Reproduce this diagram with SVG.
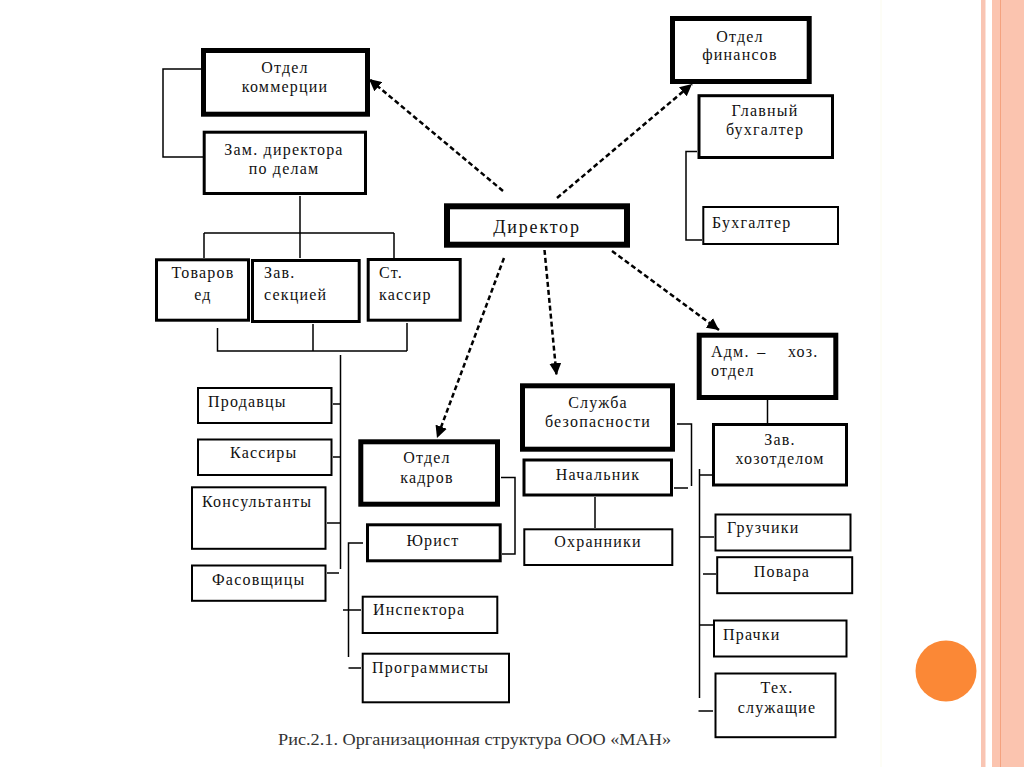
<svg xmlns="http://www.w3.org/2000/svg" width="1024" height="767" viewBox="0 0 1024 767" font-family="Liberation Serif, DejaVu Serif, serif">
<style>
.thick{fill:#fff;stroke:#000;stroke-width:5}
.box{fill:#fff;stroke:#000;stroke-width:3}
.thin{fill:#fff;stroke:#000;stroke-width:2}
.ln{fill:none;stroke:#000;stroke-width:1.5}
.dash{fill:none;stroke:#000;stroke-width:2.5;stroke-dasharray:5 3}
.t{font-family:"Liberation Serif","DejaVu Serif",serif;font-size:16px;fill:#111;letter-spacing:1.2px}
.c{text-anchor:middle}
</style>
<defs>
<marker id="ah" markerUnits="userSpaceOnUse" markerWidth="12" markerHeight="12" refX="10" refY="5" orient="auto" viewBox="0 0 10 10">
<path d="M0,0 L10,5 L0,10 z" fill="#000"/>
</marker>
</defs>
<rect x="0" y="0" width="1024" height="767" fill="#fff"/>
<line x1="881" y1="0" x2="881" y2="767" stroke="#fbfbee" stroke-width="1"/>
<rect x="981" y="0" width="4.5" height="767" fill="#f9c5b3"/>
<rect x="992" y="0" width="32" height="767" fill="#fbc4af"/>
<line x1="1000.5" y1="0" x2="1000.5" y2="767" stroke="#f4a27f" stroke-width="1"/>
<circle cx="946" cy="671" r="30.5" fill="#fb8836"/>

<g id="connectors">
<path class="ln" d="M201,69 H163 V157 H203"/>
<path class="ln" d="M300,196 V233 M204,233 H394 M204,233 V258 M300,233 V258 M394,233 V258"/>
<path class="ln" d="M217.5,328 V351 H407 M313,324 V351 M407,323 V351 M340.5,355 V569"/>
<path class="ln" d="M333,404 H341 M333,457 H341 M327,523 H341 M327,573 H339"/>
<path class="ln" d="M501,477.5 H515 V554 H502"/>
<path class="ln" d="M363,543 H348.5 V657 M343,610 H361 M348.5,668 H361"/>
<path class="ln" d="M595,497 V528"/>
<path class="ln" d="M677,424 H691.5 V486 M674,488 H688"/>
<path class="ln" d="M767.5,400 V423"/>
<path class="ln" d="M699.5,469 V698 M699.5,475 H712 M699.5,537 H714 M703,574 H716 M699.5,625 H713 M698.5,711 H713"/>
<path class="ln" d="M697,151.5 H686 V240 H702"/>
<line class="dash" x1="503" y1="191" x2="369" y2="79" marker-end="url(#ah)"/>
<line class="dash" x1="557" y1="198" x2="692" y2="84" marker-end="url(#ah)"/>
<line class="dash" x1="504" y1="258" x2="437" y2="438" marker-end="url(#ah)"/>
<line class="dash" x1="544.5" y1="250" x2="556.5" y2="375" marker-end="url(#ah)"/>
<line class="dash" x1="612" y1="251" x2="719" y2="330" marker-end="url(#ah)"/>
</g>

<g id="otdel-kommertsii">
<rect class="thick" x="203.5" y="50.5" width="164" height="63.7"/>
<text class="t c" x="285" y="73">Отдел</text>
<text class="t c" x="285" y="92">коммерции</text>
</g>
<g id="zam-direktora">
<rect class="box" x="204.2" y="132.2" width="161.3" height="61.3"/>
<text class="t c" x="284" y="155">Зам. директора</text>
<text class="t c" x="284" y="174">по делам</text>
</g>
<g id="tovaroved">
<rect class="box" x="156.5" y="259.8" width="92" height="60.4"/>
<text class="t c" x="203" y="278">Товаров</text>
<text class="t c" x="203" y="300">ед</text>
</g>
<g id="zav-sektsiey">
<rect class="box" x="252.5" y="260.5" width="106.7" height="61"/>
<text class="t" x="264" y="278">Зав.</text>
<text class="t" x="264" y="300">секцией</text>
</g>
<g id="st-kassir">
<rect class="box" x="368.2" y="259.5" width="92" height="60.7"/>
<text class="t" x="379" y="278">Ст.</text>
<text class="t" x="379" y="300">кассир</text>
</g>
<g id="prodavtsy">
<rect class="thin" x="198" y="388" width="133.5" height="35"/>
<text class="t" x="208" y="407">Продавцы</text>
</g>
<g id="kassiry">
<rect class="thin" x="198" y="439.5" width="133.5" height="35.5"/>
<text class="t" x="230" y="458">Кассиры</text>
</g>
<g id="konsultanty">
<rect class="thin" x="192" y="487.3" width="133.5" height="61.5"/>
<text class="t" x="202" y="507">Консультанты</text>
</g>
<g id="fasovshchitsy">
<rect class="thin" x="192" y="565.5" width="133.5" height="35.3"/>
<text class="t" x="212" y="585">Фасовщицы</text>
</g>
<g id="otdel-kadrov">
<rect class="thick" x="360.8" y="441.8" width="136.7" height="62.4"/>
<text class="t c" x="427" y="463">Отдел</text>
<text class="t c" x="427" y="483">кадров</text>
</g>
<g id="yurist">
<rect class="box" x="367.5" y="524.8" width="132.7" height="36"/>
<text class="t c" x="433" y="546">Юрист</text>
</g>
<g id="inspektora">
<rect class="thin" x="362.7" y="596.7" width="134.6" height="36.3"/>
<text class="t" x="373" y="615">Инспектора</text>
</g>
<g id="programmisty">
<rect class="thin" x="362.7" y="653.7" width="146.3" height="48.6"/>
<text class="t" x="372" y="673">Программисты</text>
</g>
<g id="sluzhba-bezopasnosti">
<rect class="thick" x="522.5" y="385.8" width="150" height="63.4"/>
<text class="t c" x="598" y="408">Служба</text>
<text class="t c" x="598" y="427">безопасности</text>
</g>
<g id="nachalnik">
<rect class="box" x="524" y="460" width="147.5" height="35"/>
<text class="t c" x="598" y="480">Начальник</text>
</g>
<g id="okhranniki">
<rect class="thin" x="524.3" y="529.3" width="148" height="35.7"/>
<text class="t c" x="598" y="547">Охранники</text>
</g>
<g id="direktor">
<rect x="447" y="206.3" width="180" height="38.4" fill="#fff" stroke="#000" stroke-width="6"/>
<text class="t c" x="537" y="233" style="font-size:18px;letter-spacing:1.8px">Директор</text>
</g>
<g id="otdel-finansov">
<rect class="thick" x="672.5" y="18.5" width="136.7" height="63"/>
<text class="t c" x="740" y="42">Отдел</text>
<text class="t c" x="740" y="60">финансов</text>
</g>
<g id="glavny-bukhgalter">
<rect class="box" x="699" y="95.7" width="133.5" height="61.8"/>
<text class="t c" x="765" y="116">Главный</text>
<text class="t c" x="765" y="135">бухгалтер</text>
</g>
<g id="bukhgalter">
<rect class="thin" x="703.3" y="207" width="134.7" height="37"/>
<text class="t" x="712" y="228">Бухгалтер</text>
</g>
<g id="adm-khoz-otdel">
<rect class="thick" x="699.2" y="335.2" width="136.6" height="62.3"/>
<text class="t" y="357"><tspan x="711">Адм.</tspan><tspan x="752"> – </tspan><tspan x="788">хоз.</tspan></text>
<text class="t" x="711" y="376">отдел</text>
</g>
<g id="zav-khozotdelom">
<rect class="box" x="713.5" y="424.5" width="133" height="60.5"/>
<text class="t c" x="780" y="445">Зав.</text>
<text class="t c" x="780" y="464">хозотделом</text>
</g>
<g id="gruzchiki">
<rect class="thin" x="715.5" y="514.5" width="135" height="36"/>
<text class="t" x="727" y="533">Грузчики</text>
</g>
<g id="povara">
<rect class="thin" x="717.2" y="557.2" width="135" height="36"/>
<text class="t c" x="782" y="577">Повара</text>
</g>
<g id="prachki">
<rect class="thin" x="714" y="620.5" width="132.5" height="36"/>
<text class="t" x="723" y="640">Прачки</text>
</g>
<g id="tekh-sluzhashchie">
<rect class="thin" x="715.5" y="673.5" width="120" height="63.7"/>
<text class="t c" x="777" y="693">Тех.</text>
<text class="t c" x="777" y="713">служащие</text>
</g>
<text class="t" x="278" y="745" style="fill:#333;letter-spacing:0" textLength="393" lengthAdjust="spacingAndGlyphs">Рис.2.1. Организационная структура  ООО «МАН»</text>
</svg>
